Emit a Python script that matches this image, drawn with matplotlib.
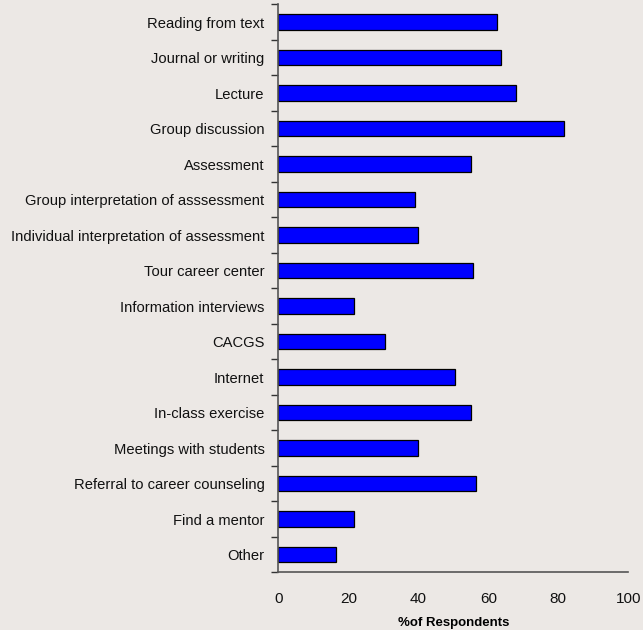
import numpy as np
import matplotlib.pyplot as plt

categories = [
    "Reading from text",
    "Journal or writing",
    "Lecture",
    "Group discussion",
    "Assessment",
    "Group interpretation of asssessment",
    "Individual interpretation of assessment",
    "Tour career center",
    "Information interviews",
    "CACGS",
    "Internet",
    "In-class exercise",
    "Meetings with students",
    "Referral to career counseling",
    "Find a mentor",
    "Other",
]
percent = [62.5, 63.5, 68, 81.5, 55, 39, 40, 55.5, 21.5, 30.5, 50.5, 55, 40, 56.5, 21.5, 16.5]
xticks = [0, 20, 40, 60, 80, 100]

plt.rcParams['font.family'] = ['Liberation Sans', 'DejaVu Sans']

bg = '#ece8e5'
fig = plt.figure(figsize=(6.43, 6.30), dpi=100, facecolor=bg)
ax = fig.add_axes([0.4328, 0.0916, 0.5444, 0.9016], facecolor=bg)

y = np.arange(len(categories))
ax.barh(y, percent, height=0.43, color='#0000ff', edgecolor='black', linewidth=0.9)

ax.set_xlim(0, 100)
ax.set_ylim(len(categories) - 0.5, -0.5)

# category labels at bar centres, tick marks on the boundaries between them
ax.set_yticks(y)
ax.set_yticklabels(categories, fontsize=10.6, color='#111111')
ax.set_yticks(np.arange(len(categories) + 1) - 0.5, minor=True)
ax.tick_params(axis='y', which='major', length=0, pad=10)
ax.tick_params(axis='y', which='minor', length=5, width=1, color='#333333')

ax.set_xticks(xticks)
ax.set_xticklabels([str(t) for t in xticks], fontsize=11, color='#111111')
ax.tick_params(axis='x', length=0, pad=14)
ax.set_xlabel('%of Respondents', fontsize=9.5, fontweight='bold', labelpad=8)

for side in ['top', 'right']:
    ax.spines[side].set_visible(False)
for side in ['left', 'bottom']:
    ax.spines[side].set_color('#555555')
    ax.spines[side].set_linewidth(1.2)

fig.savefig('out.png', dpi=100, facecolor=bg)
